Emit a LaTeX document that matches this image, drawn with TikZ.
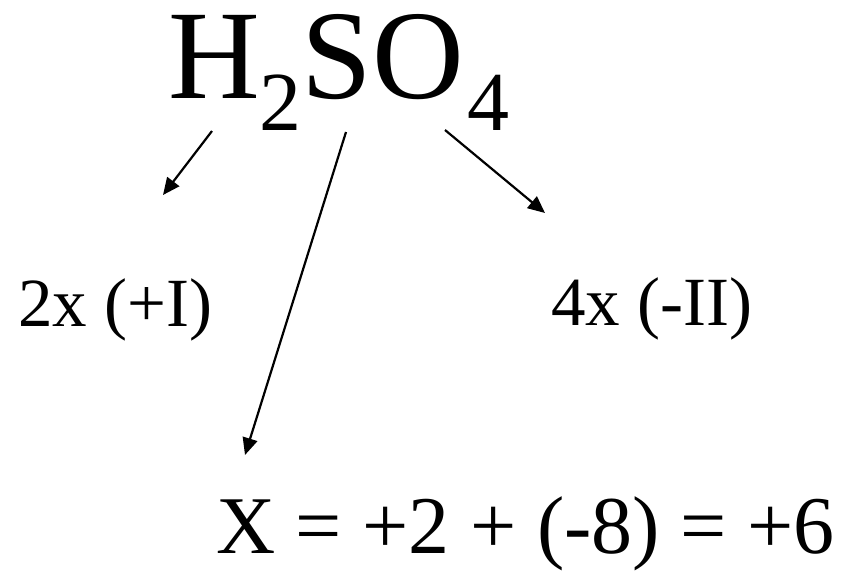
\documentclass[tikz,border=0pt]{standalone}
\usepackage{fontspec}
\setmainfont{Liberation Serif}
\usetikzlibrary{arrows.meta}
\begin{document}
\begin{tikzpicture}[x=1pt,y=-1pt,
  lbl/.style={anchor=base west,inner sep=0pt,font=\fontsize{69}{69}\selectfont},
  eqn/.style={anchor=base west,inner sep=0pt,font=\fontsize{82}{82}\selectfont},
  arr/.style={line width=2.2pt,-{Triangle[length=17pt,width=15pt]}}]
\useasboundingbox (0,0) rectangle (846,571);
\node[anchor=base west,inner sep=0pt] (formula) at (168,98)
  {\fontsize{127}{127}\selectfont H\raisebox{-32pt}{\fontsize{84}{84}\selectfont 2}SO\kern3pt\raisebox{-32pt}{\fontsize{84}{84}\selectfont 4}};
\node[lbl] (h) at (18,326) {2x (+I)};
\node[lbl] (o) at (551,325) {4x (-II)};
\node[eqn] (x) at (216,553) {X = +2 + (-8) = +6};
\coordinate (hs) at (212,131);
\coordinate (he) at (163,195);
\coordinate (ss) at (346,132);
\coordinate (se) at (245,455);
\coordinate (os) at (445,130);
\coordinate (oe) at (545,213);
\draw[arr] (hs) -- (he);
\draw[arr] (ss) -- (se);
\draw[arr] (os) -- (oe);
\end{tikzpicture}
\end{document}
